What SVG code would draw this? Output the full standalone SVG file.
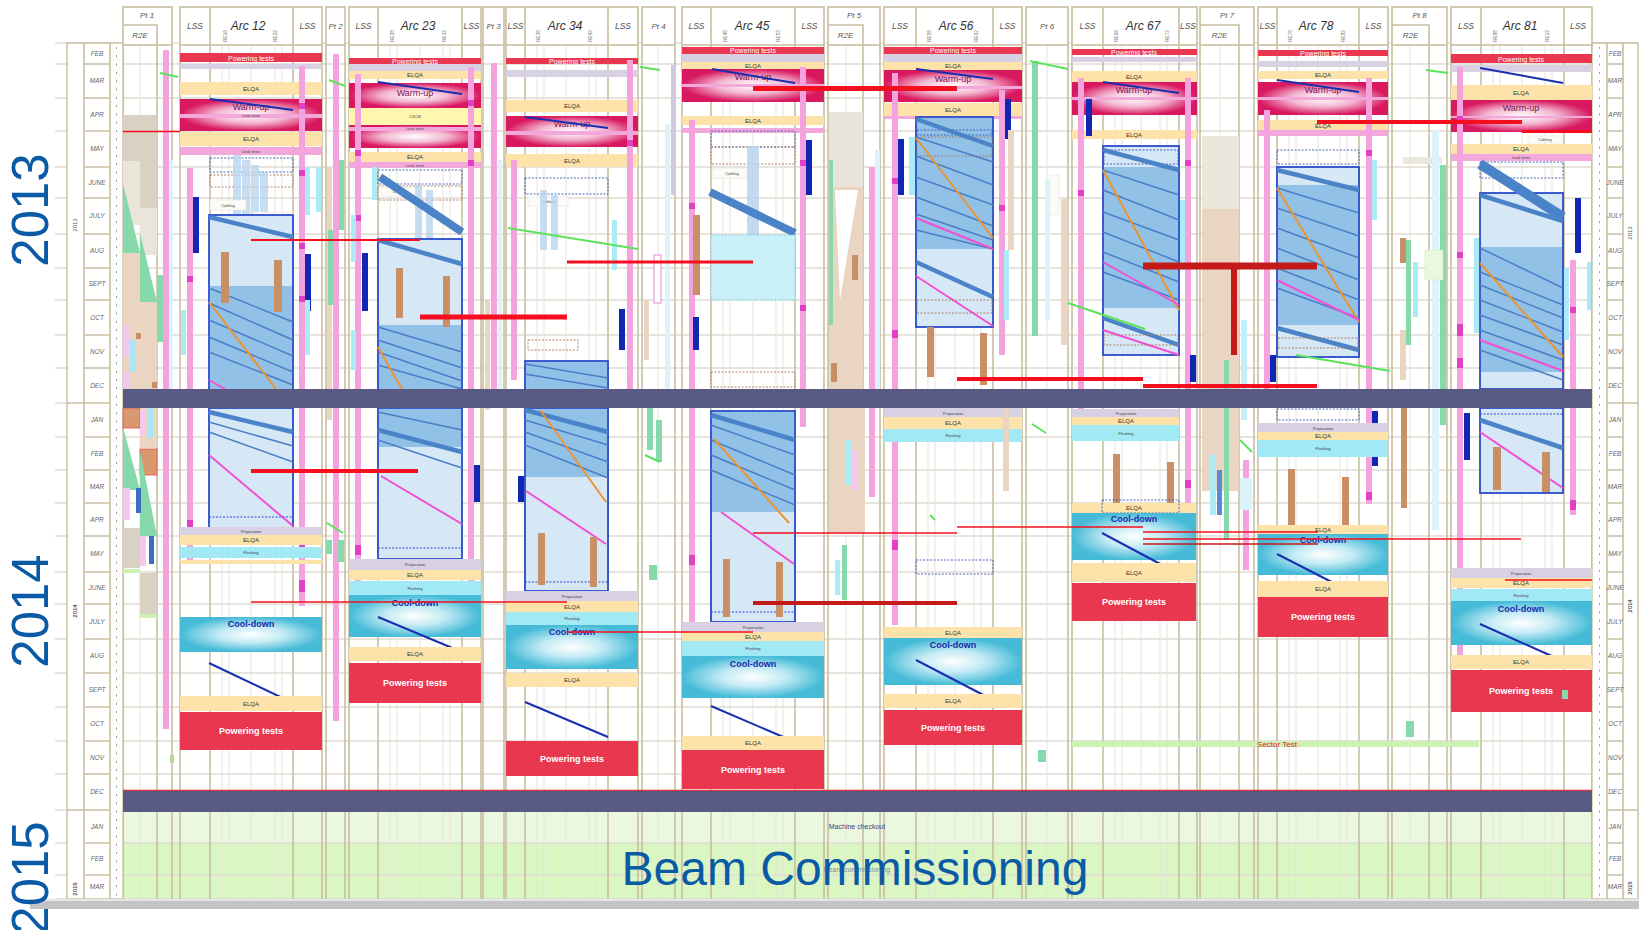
<svg xmlns="http://www.w3.org/2000/svg" width="1639" height="930" viewBox="0 0 1639 930">
<defs>
<radialGradient id="gWarm" cx="0.5" cy="0.5" r="0.5">
<stop offset="0" stop-color="#ffffff"/><stop offset="0.5" stop-color="#f3b7d1"/><stop offset="1" stop-color="#d8185f"/>
</radialGradient>
<radialGradient id="gCool" cx="0.5" cy="0.5" r="0.5">
<stop offset="0" stop-color="#ffffff"/><stop offset="0.45" stop-color="#c4ebf5"/><stop offset="1" stop-color="#46bbd7"/>
</radialGradient>
<style>
.maj{stroke:#c8bfa2;stroke-width:1.6;fill:none}
.min{stroke:#e6e3da;stroke-width:1;fill:none}
.hl{stroke:#dfdcd2;stroke-width:1.3;fill:none}
.hb{fill:#fff;stroke:#c8bfa2;stroke-width:1.6}
.tb{fill:#fff;stroke:#c8bfa2;stroke-width:1.4}
.pw{fill:#e8374f}.el{fill:#fde3a9}.lv{fill:#d7d1e3}.fl{fill:#a0e9f5}.lk{fill:#f3a8dc}.pk{fill:#f5a3df}.mk{fill:#e23fc6}
.nv{fill:#1226b4}.br{fill:#c98f66}.cy{fill:#aaebf6}.lc{fill:#dcf3fb}.tan{fill:#e9d5c1}.bg{fill:#e9e5da}.gy{fill:#d9d2c3}.gr{fill:#86d9aa}.cs{fill:#fff6b0}
.wu{fill:url(#gWarm)}.cd{fill:url(#gCool)}
.bx{fill:#d6e7f6;stroke:#2a4bcc;stroke-width:1.8}
.dk{fill:#92c1e7}
.dg{stroke:#4a7fc6;stroke-width:1.5}
.dgt{stroke:#4a83c8;stroke-width:4.5}
.or{stroke:#ec9430;stroke-width:2}
.mg{stroke:#f24fd4;stroke-width:2}
.sv{stroke:#1a2fb0;stroke-width:2}
.db{fill:#595a84}
.dsh{fill:none;stroke:#3a58b8;stroke-width:0.9;stroke-dasharray:2 1.5}
.dshb{fill:none;stroke:#a8765a;stroke-width:0.9;stroke-dasharray:2 1.5}
.wb{fill:#fbfbf8;stroke:#e6e3da;stroke-width:0.6}
.rl{stroke:#f40f1f;fill:none}
.rd{stroke:#c41a1a;fill:none}
.gl{stroke:#5ce35c;stroke-width:2}
text{font-family:"Liberation Sans",Arial,sans-serif}
.tp{font-style:italic;font-size:8px;fill:#555;text-anchor:middle}
.ta{font-style:italic;font-size:12px;fill:#333;text-anchor:middle}
.tl{font-style:italic;font-size:8.5px;fill:#555;text-anchor:middle}
.tr{font-size:4.5px;fill:#777;text-anchor:middle}
.mo{font-style:italic;font-size:6.5px;fill:#666;text-anchor:middle}
.yr{font-size:51px;fill:#0b5aa6;text-anchor:middle}
.ys{font-size:6px;fill:#555;text-anchor:middle}
.tw{font-size:7px;fill:#fff;text-anchor:middle}
.tbw{font-size:9px;font-weight:bold;fill:#fff;text-anchor:middle}
.te{font-size:6px;fill:#333;text-anchor:middle}
.tt{font-size:4px;fill:#444;text-anchor:middle}
.tc{font-size:9px;font-weight:bold;fill:#1a2ca8;text-anchor:middle}
.tu{font-size:9px;fill:#7b1553;text-anchor:middle}
</style>
</defs>
<rect width="1639" height="930" fill="#ffffff"/>

<g id="commissioning-area">
<rect x="123" y="812" width="1469" height="31" fill="#e9f8df"/>
<rect x="123" y="843" width="1469" height="56" fill="#d9f6c3"/>
</g>

<g id="grid">
<path class="hl" d="M55 43H1638M55 64H1638M55 98H1638M55 131H1638M55 167H1638M55 198H1638M55 234H1638M55 268H1638M55 300H1638M55 335H1638M55 368H1638M55 403H1638M55 437H1638M55 470H1638M55 503H1638M55 536H1638M55 572H1638M55 604H1638M55 639H1638M55 673H1638M55 707H1638M55 741H1638M55 774H1638M55 810H1638M55 843H1638M55 875H1638M55 899H1638"/>
<path class="min" d="M140 45V899M222 45V899M229 45V899M251 45V899M275 45V899M282 45V899M390 45V899M397 45V899M420 45V899M443 45V899M450 45V899M537 45V899M544 45V899M566 45V899M589 45V899M596 45V899M658 45V899M723 45V899M730 45V899M753 45V899M776 45V899M783 45V899M846 45V899M928 45V899M935 45V899M955 45V899M974 45V899M981 45V899M1047 45V899M1115 45V899M1122 45V899M1141 45V899M1160 45V899M1167 45V899M1220 45V899M1289 45V899M1296 45V899M1318 45V899M1340 45V899M1347 45V899M1410 45V899M1493 45V899M1500 45V899M1522 45V899M1545 45V899M1552 45V899"/>
<path class="maj" d="M123 45V899M157 45V899M172 45V899M180 45V899M210 45V899M293 45V899M322 45V899M326 45V899M345 45V899M349 45V899M378 45V899M462 45V899M481 45V899M483 45V899M504 45V899M506 45V899M525 45V899M608 45V899M638 45V899M642 45V899M675 45V899M682 45V899M711 45V899M795 45V899M824 45V899M828 45V899M863 45V899M880 45V899M884 45V899M916 45V899M993 45V899M1022 45V899M1026 45V899M1068 45V899M1072 45V899M1103 45V899M1179 45V899M1197 45V899M1200 45V899M1239 45V899M1254 45V899M1258 45V899M1277 45V899M1359 45V899M1388 45V899M1392 45V899M1429 45V899M1447 45V899M1451 45V899M1481 45V899M1564 45V899M1592 45V899"/>
</g>

<g id="left-table">
<rect class="tb" x="67" y="43" width="56" height="856"/>
<path class="maj" d="M84 43V899M110 43V899M67 403H84M67 810H84M84 64H110M84 98H110M84 131H110M84 167H110M84 198H110M84 234H110M84 268H110M84 300H110M84 335H110M84 368H110M84 403H110M84 437H110M84 470H110M84 503H110M84 536H110M84 572H110M84 604H110M84 639H110M84 673H110M84 707H110M84 741H110M84 774H110M84 810H110M84 843H110M84 875H110"/>
<line x1="116.5" y1="47" x2="116.5" y2="897" stroke="#9a9a9a" stroke-width="1" stroke-dasharray="2 6.3"/>
<text class="ys" transform="translate(77,225) rotate(-90)">2013</text>
<text class="ys" font-weight="bold" transform="translate(77,611) rotate(-90)">2014</text>
<text class="ys" font-weight="bold" transform="translate(77,889) rotate(-90)">2015</text>
<g class="mo">
<text x="97" y="56">FEB</text><text x="97" y="83">MAR</text><text x="97" y="117">APR</text><text x="97" y="151">MAY</text><text x="97" y="185">JUNE</text><text x="97" y="218">JULY</text><text x="97" y="253">AUG</text><text x="97" y="286">SEPT</text><text x="97" y="320">OCT</text><text x="97" y="354">NOV</text><text x="97" y="388">DEC</text>
<text x="97" y="422">JAN</text><text x="97" y="456">FEB</text><text x="97" y="489">MAR</text><text x="97" y="522">APR</text><text x="97" y="556">MAY</text><text x="97" y="590">JUNE</text><text x="97" y="624">JULY</text><text x="97" y="658">AUG</text><text x="97" y="692">SEPT</text><text x="97" y="726">OCT</text><text x="97" y="760">NOV</text><text x="97" y="794">DEC</text>
<text x="97" y="829">JAN</text><text x="97" y="861">FEB</text><text x="97" y="889">MAR</text>
</g>
</g>

<g id="right-table">
<rect class="tb" x="1592" y="43" width="46" height="856"/>
<path class="maj" d="M1607 43V899M1623 43V899M1623 403H1638M1623 810H1638M1607 64H1623M1607 98H1623M1607 131H1623M1607 167H1623M1607 198H1623M1607 234H1623M1607 268H1623M1607 300H1623M1607 335H1623M1607 368H1623M1607 403H1623M1607 437H1623M1607 470H1623M1607 503H1623M1607 536H1623M1607 572H1623M1607 604H1623M1607 639H1623M1607 673H1623M1607 707H1623M1607 741H1623M1607 774H1623M1607 810H1623M1607 843H1623M1607 875H1623"/>
<line x1="1599.5" y1="47" x2="1599.5" y2="897" stroke="#9a9a9a" stroke-width="1" stroke-dasharray="2 6.3"/>
<text class="ys" transform="translate(1632,233) rotate(-90)">2013</text>
<text class="ys" font-weight="bold" transform="translate(1632,606) rotate(-90)">2014</text>
<text class="ys" font-weight="bold" transform="translate(1632,888) rotate(-90)">2015</text>
<g class="mo">
<text x="1615" y="56">FEB</text><text x="1615" y="83">MAR</text><text x="1615" y="117">APR</text><text x="1615" y="151">MAY</text><text x="1615" y="185">JUNE</text><text x="1615" y="218">JULY</text><text x="1615" y="253">AUG</text><text x="1615" y="286">SEPT</text><text x="1615" y="320">OCT</text><text x="1615" y="354">NOV</text><text x="1615" y="388">DEC</text>
<text x="1615" y="422">JAN</text><text x="1615" y="456">FEB</text><text x="1615" y="489">MAR</text><text x="1615" y="522">APR</text><text x="1615" y="556">MAY</text><text x="1615" y="590">JUNE</text><text x="1615" y="624">JULY</text><text x="1615" y="658">AUG</text><text x="1615" y="692">SEPT</text><text x="1615" y="726">OCT</text><text x="1615" y="760">NOV</text><text x="1615" y="794">DEC</text>
<text x="1615" y="829">JAN</text><text x="1615" y="861">FEB</text><text x="1615" y="889">MAR</text>
</g>
</g>

<g id="headers">
<rect class="hb" x="123" y="7" width="49" height="38"/><path class="maj" d="M123 25H157V45"/><text class="tp" x="147" y="18">Pt 1</text><text class="tp" x="140" y="38">R2E</text>
<rect class="hb" x="180" y="7" width="142" height="38"/><path class="maj" d="M210 7V45M293 7V45"/><text class="tl" x="195" y="29">LSS</text><text class="ta" x="248" y="30">Arc 12</text><text class="tl" x="307.5" y="29">LSS</text>
<text class="tr" transform="translate(227,36) rotate(-90)">RE18</text><text class="tr" transform="translate(277,36) rotate(-90)">RE22</text>
<rect class="hb" x="326" y="7" width="19" height="38"/><text class="tp" x="335.5" y="29">Pt 2</text>
<rect class="hb" x="349" y="7" width="132" height="38"/><path class="maj" d="M378 7V45M462 7V45"/><text class="tl" x="363.5" y="29">LSS</text><text class="ta" x="418" y="30">Arc 23</text><text class="tl" x="471.5" y="29">LSS</text>
<text class="tr" transform="translate(394,36) rotate(-90)">RE28</text><text class="tr" transform="translate(446,36) rotate(-90)">RE32</text>
<rect class="hb" x="483" y="7" width="21" height="38"/><text class="tp" x="493.5" y="29">Pt 3</text>
<rect class="hb" x="506" y="7" width="132" height="38"/><path class="maj" d="M525 7V45M608 7V45"/><text class="tl" x="515.5" y="29">LSS</text><text class="ta" x="565" y="30">Arc 34</text><text class="tl" x="623" y="29">LSS</text>
<text class="tr" transform="translate(540,36) rotate(-90)">RE38</text><text class="tr" transform="translate(592,36) rotate(-90)">RE42</text>
<rect class="hb" x="642" y="7" width="33" height="38"/><text class="tp" x="658.5" y="29">Pt 4</text>
<rect class="hb" x="682" y="7" width="142" height="38"/><path class="maj" d="M711 7V45M795 7V45"/><text class="tl" x="696.5" y="29">LSS</text><text class="ta" x="752" y="30">Arc 45</text><text class="tl" x="809.5" y="29">LSS</text>
<text class="tr" transform="translate(727,36) rotate(-90)">RE48</text><text class="tr" transform="translate(780,36) rotate(-90)">RE52</text>
<rect class="hb" x="828" y="7" width="52" height="38"/><path class="maj" d="M828 25H863V45"/><text class="tp" x="854" y="18">Pt 5</text><text class="tp" x="845.5" y="38">R2E</text>
<rect class="hb" x="884" y="7" width="138" height="38"/><path class="maj" d="M916 7V45M993 7V45"/><text class="tl" x="900" y="29">LSS</text><text class="ta" x="956" y="30">Arc 56</text><text class="tl" x="1007.5" y="29">LSS</text>
<text class="tr" transform="translate(931,36) rotate(-90)">RE58</text><text class="tr" transform="translate(978,36) rotate(-90)">RE62</text>
<rect class="hb" x="1026" y="7" width="42" height="38"/><text class="tp" x="1047" y="29">Pt 6</text>
<rect class="hb" x="1072" y="7" width="125" height="38"/><path class="maj" d="M1103 7V45M1179 7V45"/><text class="tl" x="1087.5" y="29">LSS</text><text class="ta" x="1143" y="30">Arc 67</text><text class="tl" x="1188" y="29">LSS</text>
<text class="tr" transform="translate(1118,36) rotate(-90)">RE68</text><text class="tr" transform="translate(1169,36) rotate(-90)">RE72</text>
<rect class="hb" x="1200" y="7" width="54" height="38"/><path class="maj" d="M1200 25H1239V45"/><text class="tp" x="1227" y="18">Pt 7</text><text class="tp" x="1219.5" y="38">R2E</text>
<rect class="hb" x="1258" y="7" width="130" height="38"/><path class="maj" d="M1277 7V45M1359 7V45"/><text class="tl" x="1267.5" y="29">LSS</text><text class="ta" x="1316" y="30">Arc 78</text><text class="tl" x="1373.5" y="29">LSS</text>
<text class="tr" transform="translate(1292,36) rotate(-90)">RE78</text><text class="tr" transform="translate(1345,36) rotate(-90)">RE82</text>
<rect class="hb" x="1392" y="7" width="55" height="38"/><path class="maj" d="M1392 25H1429V45"/><text class="tp" x="1419.5" y="18">Pt 8</text><text class="tp" x="1410.5" y="38">R2E</text>
<rect class="hb" x="1451" y="7" width="141" height="38"/><path class="maj" d="M1481 7V45M1564 7V45"/><text class="tl" x="1466" y="29">LSS</text><text class="ta" x="1520" y="30">Arc 81</text><text class="tl" x="1578" y="29">LSS</text>
<text class="tr" transform="translate(1497,36) rotate(-90)">RE88</text><text class="tr" transform="translate(1549,36) rotate(-90)">RE12</text>
</g>

<g id="pt1">
<rect class="gy" x="123" y="115" width="17" height="46"/><rect class="gy" x="140" y="115" width="17" height="93"/>
<rect class="bg" x="123" y="161" width="17" height="64"/><rect class="bg" x="140" y="208" width="17" height="47"/>
<rect class="tan" x="123" y="253" width="17" height="136"/><rect class="tan" x="140" y="302" width="17" height="87"/>
<polygon class="gr" points="123,183 123,253 140,253"/><polygon class="gr" points="140,233 140,302 157,302"/>
<rect x="123" y="325" width="6" height="32" fill="#f5c8ef"/><rect x="130" y="340" width="6" height="32" fill="#a9e6f7"/><rect x="123" y="372" width="6" height="16" fill="#f5c8ef"/>
<rect class="br" x="136" y="333" width="5" height="6"/><rect class="br" x="152" y="382" width="5" height="6"/>
<rect class="gr" x="157" y="275" width="6" height="67"/>
<rect class="lc" x="169" y="160" width="4" height="240"/>
<rect class="pk" x="163" y="50" width="6" height="679"/>
<rect x="123" y="408" width="17" height="20" fill="#d9986e" stroke="#e05050" stroke-width="0.8"/>
<rect class="tan" x="140" y="408" width="17" height="40"/><rect x="140" y="410" width="5" height="25" fill="#f5c8ef"/><rect x="147" y="408" width="6" height="30" fill="#a9e6f7"/>
<rect x="140" y="449" width="17" height="26" fill="#d9986e" stroke="#e05050" stroke-width="0.8"/>
<polygon class="gr" points="123,427 123,490 140,490"/><polygon class="gr" points="140,451 140,536 157,536"/>
<rect x="123" y="488" width="7" height="32" fill="#f5c8ef"/><rect x="136" y="488" width="5" height="25" fill="#3b6ec0"/>
<rect x="140" y="536" width="6" height="30" fill="#f5c8ef"/><rect x="149" y="536" width="5" height="28" fill="#3b6ec0"/>
<rect class="gy" x="123" y="528" width="17" height="40"/><rect x="123" y="569" width="17" height="4" fill="#cdf0b3"/>
<rect class="gy" x="140" y="573" width="17" height="41"/><rect x="140" y="614" width="17" height="4" fill="#cdf0b3"/>
<rect x="170" y="755" width="4" height="8" fill="#b9d99a"/>
</g>

<g id="pt2">
<rect class="tan" x="327" y="167" width="5" height="253"/>
<rect class="gr" x="338" y="160" width="6" height="70"/><rect class="gr" x="328" y="230" width="5" height="75"/>
<rect class="pk" x="333" y="54" width="6" height="667"/>
<rect class="gr" x="326" y="540" width="6" height="14"/><rect class="gr" x="338" y="540" width="6" height="22"/>
</g>

<g id="pt3">
<rect class="tan" x="485" y="300" width="5" height="110"/>
<rect class="pk" x="491" y="63" width="6" height="330"/>
<rect class="lc" x="498" y="160" width="4" height="230"/>
</g>

<g id="pt4">
<rect class="lc" x="665" y="124" width="5" height="276"/>
<rect x="671" y="65" width="5" height="130" fill="#cfcadb"/>
<rect class="tan" x="644" y="300" width="5" height="60"/>
<rect x="654" y="255" width="7" height="48" fill="#fff" stroke="#e06fd0" stroke-width="0.8"/>
<rect class="gr" x="647" y="402" width="6" height="48"/><rect class="gr" x="656" y="420" width="6" height="42"/>
<rect class="gr" x="649" y="565" width="8" height="15"/>
</g>

<g id="pt5">
<rect x="829" y="112" width="34" height="75" fill="#e8e4d9"/>
<rect class="tan" x="829" y="187" width="34" height="202"/>
<polygon points="835,190 858,190 840,300" fill="#ffffff"/>
<rect class="gr" x="829" y="160" width="4" height="165"/>
<rect class="br" x="852" y="255" width="6" height="25"/><rect class="br" x="831" y="363" width="6" height="19"/>
<rect class="lc" x="875" y="150" width="5" height="240"/>
<rect class="pk" x="869" y="167" width="6" height="330"/>
<rect class="tan" x="829" y="408" width="36" height="125"/>
<rect class="cy" x="846" y="440" width="5" height="45"/><rect x="852" y="450" width="6" height="40" fill="#f5c8ef"/>
<rect class="gr" x="842" y="545" width="5" height="55"/><rect class="cy" x="835" y="560" width="5" height="35"/>
</g>

<g id="pt6">
<rect class="gr" x="1032" y="61" width="6" height="275"/>
<rect class="lc" x="1045" y="180" width="5" height="140"/>
<rect class="tan" x="1061" y="199" width="7" height="146"/>
<rect class="wb" x="1050" y="175" width="9" height="40"/>
<rect class="gr" x="1038" y="750" width="8" height="12"/>
</g>

<g id="pt7">
<rect x="1202" y="136" width="37" height="73" fill="#ebe7dc"/>
<rect class="tan" x="1202" y="209" width="37" height="282"/>
<rect class="gr" x="1224" y="360" width="5" height="180"/>
<rect x="1241" y="320" width="6" height="100" fill="#c3effa"/>
<rect class="pk" x="1243" y="460" width="6" height="110"/>
<rect class="cy" x="1210" y="455" width="6" height="60"/><rect x="1217" y="470" width="5" height="45" fill="#5a8ad0"/>
<rect class="lc" x="1240" y="478" width="12" height="32"/>
</g>

<g id="pt8">
<rect x="1403" y="157" width="39" height="7" fill="#ebe7dc"/>
<rect class="br" x="1400" y="238" width="6" height="25"/>
<rect class="gr" x="1406" y="240" width="5" height="105"/>
<rect class="cy" x="1413" y="262" width="5" height="55"/>
<rect class="tan" x="1400" y="330" width="6" height="50"/>
<rect class="lc" x="1432" y="130" width="7" height="400"/>
<rect class="gr" x="1440" y="165" width="6" height="260"/>
<rect x="1425" y="250" width="18" height="30" fill="#eaf8e0" stroke="#cdeec0" stroke-width="0.6"/>
<rect class="br" x="1401" y="408" width="6" height="100"/>
<rect class="gr" x="1406" y="721" width="8" height="16"/>
</g>

<g id="arc12">
<rect class="pw" x="180" y="53" width="142" height="9"/><text class="tw" x="251" y="60.5">Powering tests</text>
<rect class="lv" x="180" y="64" width="142" height="5"/>
<rect class="el" x="180" y="82" width="142" height="13"/><text class="te" x="251" y="91">ELQA</text>
<rect class="wu" x="180" y="99" width="142" height="32"/><rect class="lk" x="180" y="114" width="142" height="4"/>
<text class="tu" x="251" y="110">Warm-up</text><text class="tt" x="251" y="117.3">Leak tests</text>
<rect class="el" x="180" y="132" width="142" height="14"/><text class="te" x="251" y="141">ELQA</text>
<rect class="lk" x="180" y="147" width="142" height="8"/><text class="tt" x="251" y="152.5">Leak tests</text>
<line class="sv" x1="210" y1="99" x2="293" y2="110"/>
<rect class="dsh" x="210" y="158" width="83" height="14"/><rect class="dshb" x="210" y="175" width="83" height="12"/>
<rect x="233" y="155" width="8" height="90" fill="#b9d4ee" opacity="0.8"/><rect x="242" y="160" width="8" height="85" fill="#b9d4ee" opacity="0.8"/><rect x="251" y="165" width="8" height="80" fill="#b9d4ee" opacity="0.8"/><rect x="260" y="172" width="8" height="78" fill="#b9d4ee" opacity="0.8"/>
<rect class="wb" x="210" y="200" width="36" height="10"/><text class="tt" x="228" y="206.5">Cabling</text>
<rect class="wb" x="253" y="212" width="40" height="10"/><text class="tt" x="273" y="218.5">Cabling</text>
<rect class="bx" x="209" y="215" width="84" height="174"/><rect class="dk" x="210" y="286" width="82" height="103"/>
<line class="dgt" x1="209" y1="217" x2="293" y2="237"/>
<path class="dg" d="M209 288L293 322M209 303L293 340M209 320L293 356M209 337L293 372M209 352L293 385"/>
<line class="or" x1="209" y1="302" x2="293" y2="411"/>
<line class="mg" x1="209" y1="380" x2="293" y2="428"/>
<rect class="br" x="221" y="252" width="8" height="51"/><rect class="br" x="274" y="260" width="8" height="52"/>
<rect class="bx" x="209" y="408" width="84" height="120"/>
<line class="dgt" x1="209" y1="412" x2="293" y2="432"/>
<path class="dg" d="M209 422L293 446M209 432L293 462"/>
<line class="mg" x1="209" y1="455" x2="293" y2="526"/>
<line x1="209" y1="517" x2="293" y2="517" stroke="#2a4bcc" stroke-dasharray="2 1.5"/>
<rect class="pk" x="187" y="168" width="6" height="392"/><rect class="mk" x="187" y="276" width="6" height="6"/><rect class="mk" x="187" y="520" width="6" height="8"/>
<rect class="pk" x="299" y="66" width="6" height="540"/><rect class="mk" x="299" y="103" width="6" height="6"/><rect class="mk" x="299" y="170" width="6" height="6"/><rect class="mk" x="299" y="243" width="6" height="6"/><rect class="mk" x="299" y="296" width="6" height="6"/><rect class="mk" x="299" y="540" width="6" height="9"/><rect class="mk" x="299" y="580" width="6" height="12"/>
<rect class="nv" x="193" y="197" width="6" height="56"/><rect class="nv" x="305" y="254" width="6" height="57"/>
<rect class="cy" x="181" y="310" width="5" height="45"/><rect class="cy" x="305" y="167" width="5" height="48"/><rect class="cy" x="316" y="167" width="5" height="45"/><rect class="cy" x="305" y="300" width="5" height="55"/>
<rect class="lv" x="180" y="527" width="142" height="8"/><text class="tt" x="251" y="532.5">Preparation</text>
<rect class="el" x="180" y="535" width="142" height="10"/><text class="te" x="251" y="542">ELQA</text>
<rect class="fl" x="180" y="547" width="142" height="11"/><text class="tt" x="251" y="554">Flushing</text>
<rect class="el" x="180" y="560" width="142" height="4"/>
<rect class="cd" x="180" y="617" width="142" height="35"/><text class="tc" x="251" y="627">Cool-down</text>
<line class="sv" x1="209" y1="663" x2="293" y2="703"/>
<rect class="el" x="180" y="696" width="142" height="15"/><text class="te" x="251" y="706">ELQA</text>
<rect class="pw" x="180" y="712" width="142" height="38"/><text class="tbw" x="251" y="734">Powering tests</text>
</g>

<g id="arc23">
<rect class="pw" x="349" y="58" width="132" height="6"/><text class="tw" x="415" y="63.5" font-size="6">Powering tests</text>
<rect class="lv" x="349" y="64" width="132" height="7"/>
<rect class="el" x="349" y="71" width="132" height="8"/><text class="te" x="415" y="77">ELQA</text>
<rect class="wu" x="349" y="83" width="132" height="25"/><text class="tu" x="415" y="96">Warm-up</text>
<rect class="cs" x="349" y="108" width="132" height="17"/><text class="tt" x="415" y="118">CSCM</text>
<rect class="wu" x="349" y="125" width="132" height="23"/><rect class="lk" x="349" y="127" width="132" height="4"/><text class="tt" x="415" y="130.3">Leak tests</text>
<rect class="el" x="349" y="152" width="132" height="10"/><text class="te" x="415" y="159">ELQA</text>
<rect class="lk" x="349" y="162" width="132" height="6"/><text class="tt" x="415" y="166.5">Leak tests</text>
<line class="sv" x1="378" y1="82" x2="462" y2="94"/>
<rect class="dsh" x="378" y="170" width="84" height="14"/><rect class="dshb" x="378" y="186" width="84" height="14"/>
<rect class="wb" x="381" y="187" width="37" height="9"/><text class="tt" x="399.5" y="193">Cabling</text>
<rect x="415" y="185" width="7" height="80" fill="#b9d4ee" opacity="0.8"/><rect x="426" y="190" width="7" height="85" fill="#b9d4ee" opacity="0.8"/>
<line x1="380" y1="177" x2="462" y2="232" stroke="#4a83c8" stroke-width="8"/>
<rect class="bx" x="378" y="239" width="84" height="150"/><rect class="dk" x="379" y="325" width="82" height="64"/>
<line class="dgt" x1="378" y1="240" x2="462" y2="264"/>
<path class="dg" d="M378 327L462 352M378 340L462 368M378 352L462 381M378 365L462 389"/>
<line class="or" x1="378" y1="347" x2="462" y2="495"/>
<rect class="br" x="396" y="268" width="7" height="50"/><rect class="br" x="443" y="276" width="7" height="51"/>
<rect class="bx" x="378" y="408" width="84" height="151"/><rect class="dk" x="379" y="409" width="82" height="38"/>
<line class="dgt" x1="378" y1="430" x2="462" y2="452"/>
<path class="dg" d="M378 412L462 430M378 440L462 468"/>
<line class="mg" x1="381" y1="476" x2="462" y2="524"/>
<line x1="378" y1="548" x2="462" y2="548" stroke="#2a4bcc" stroke-dasharray="2 1.5"/>
<rect class="pk" x="355" y="74" width="6" height="512"/><rect class="mk" x="355" y="150" width="6" height="6"/><rect class="mk" x="355" y="215" width="6" height="6"/><rect class="mk" x="355" y="545" width="6" height="10"/>
<rect class="pk" x="468" y="67" width="6" height="520"/><rect class="mk" x="468" y="100" width="6" height="6"/><rect class="mk" x="468" y="160" width="6" height="6"/>
<rect class="nv" x="362" y="253" width="6" height="58"/><rect class="nv" x="474" y="465" width="6" height="37"/>
<rect class="cy" x="351" y="215" width="5" height="47"/><rect class="cy" x="372" y="167" width="5" height="33"/><rect class="cy" x="351" y="330" width="5" height="40"/>
<rect class="lv" x="349" y="559" width="132" height="11"/><text class="tt" x="415" y="566">Preparation</text>
<rect class="el" x="349" y="570" width="132" height="10"/><text class="te" x="415" y="577">ELQA</text>
<rect class="fl" x="349" y="581" width="132" height="14"/><text class="tt" x="415" y="589.5">Flushing</text>
<rect class="cd" x="349" y="595" width="132" height="42"/><text class="tc" x="415" y="606">Cool-down</text>
<line class="sv" x1="378" y1="617" x2="462" y2="652"/>
<rect class="el" x="349" y="647" width="132" height="14"/><text class="te" x="415" y="656">ELQA</text>
<rect class="pw" x="349" y="663" width="132" height="40"/><text class="tbw" x="415" y="686">Powering tests</text>
</g>

<g id="arc34">
<rect class="pw" x="506" y="58" width="132" height="6"/><text class="tw" x="572" y="63.5" font-size="6">Powering tests</text>
<rect class="lv" x="506" y="70" width="132" height="7"/>
<rect class="el" x="506" y="100" width="132" height="12"/><text class="te" x="572" y="108">ELQA</text>
<rect class="wu" x="506" y="116" width="132" height="31"/><rect class="lk" x="506" y="131" width="132" height="4"/><text class="tu" x="572" y="127">Warm-up</text>
<rect class="el" x="506" y="154" width="132" height="13"/><text class="te" x="572" y="163">ELQA</text>
<line class="sv" x1="525" y1="117" x2="608" y2="128"/>
<rect class="dsh" x="525" y="178" width="83" height="16"/>
<rect class="wb" x="528" y="197" width="40" height="9"/><text class="tt" x="548" y="203">Cabling</text>
<rect x="540" y="190" width="7" height="60" fill="#b9d4ee" opacity="0.8"/><rect x="551" y="195" width="7" height="55" fill="#b9d4ee" opacity="0.8"/>
<rect class="dshb" x="528" y="340" width="50" height="10"/>
<rect class="bx" x="525" y="361" width="83" height="28"/><rect class="dk" x="526" y="362" width="81" height="27"/>
<path class="dg" d="M525 364L608 378M525 374L608 388"/>
<rect class="bx" x="525" y="408" width="83" height="183"/><rect class="dk" x="526" y="409" width="81" height="68"/>
<line class="dgt" x1="525" y1="410" x2="608" y2="432"/>
<path class="dg" d="M525 420L608 445M525 432L608 462M525 445L608 478"/>
<line class="or" x1="540" y1="410" x2="606" y2="502"/>
<line class="mg" x1="526" y1="491" x2="606" y2="544"/>
<line x1="525" y1="582" x2="608" y2="582" stroke="#2a4bcc" stroke-dasharray="2 1.5"/>
<rect class="br" x="538" y="533" width="7" height="52"/><rect class="br" x="590" y="537" width="7" height="50"/>
<rect class="pk" x="511" y="160" width="6" height="220"/>
<rect class="pk" x="627" y="60" width="6" height="330"/><rect class="mk" x="627" y="140" width="6" height="6"/>
<rect class="nv" x="518" y="476" width="6" height="26"/><rect class="nv" x="619" y="309" width="6" height="41"/>
<rect class="cy" x="612" y="220" width="5" height="50"/>
<rect class="lv" x="506" y="591" width="132" height="10"/><text class="tt" x="572" y="597.5">Preparation</text>
<rect class="el" x="506" y="601" width="132" height="11"/><text class="te" x="572" y="608.5">ELQA</text>
<rect class="fl" x="506" y="612" width="132" height="13"/><text class="tt" x="572" y="620">Flushing</text>
<rect class="cd" x="506" y="625" width="132" height="44"/><text class="tc" x="572" y="635">Cool-down</text>
<rect class="el" x="506" y="673" width="132" height="14"/><text class="te" x="572" y="682">ELQA</text>
<line class="sv" x1="525" y1="702" x2="608" y2="737"/>
<rect class="pw" x="506" y="741" width="132" height="35"/><text class="tbw" x="572" y="762">Powering tests</text>
</g>

<g id="arc45">
<rect class="pw" x="682" y="47" width="142" height="7"/><text class="tw" x="753" y="53">Powering tests</text>
<rect class="lv" x="682" y="54" width="142" height="8"/>
<rect class="el" x="682" y="62" width="142" height="7"/><text class="te" x="753" y="67.5">ELQA</text>
<rect class="wu" x="682" y="69" width="142" height="33"/><rect class="lk" x="682" y="84" width="142" height="3"/><text class="tu" x="753" y="80">Warm-up</text>
<rect class="el" x="682" y="116" width="142" height="9"/><text class="te" x="753" y="122.5">ELQA</text>
<rect class="lk" x="682" y="128" width="142" height="5"/>
<line class="sv" x1="712" y1="69" x2="795" y2="83"/>
<rect class="dsh" x="711" y="131" width="84" height="16"/><rect class="dshb" x="711" y="147" width="84" height="17"/>
<rect class="wb" x="712" y="168" width="40" height="10"/><text class="tt" x="732" y="174.5">Cabling</text>
<rect x="747" y="146" width="12" height="114" fill="#b9d4ee" opacity="0.85"/>
<line x1="710" y1="192" x2="795" y2="233" stroke="#4a83c8" stroke-width="8"/>
<rect x="711" y="235" width="84" height="65" fill="#c9eff8" stroke="#6fd0e6" stroke-width="0.8" stroke-dasharray="2 1.5"/>
<rect class="dshb" x="711" y="372" width="84" height="15"/>
<rect class="bx" x="711" y="411" width="84" height="211"/><rect class="dk" x="712" y="412" width="82" height="100"/>
<line class="dgt" x1="711" y1="415" x2="795" y2="440"/>
<path class="dg" d="M711 425L795 455M711 440L795 475M711 455L795 490M711 470L795 505"/>
<line class="or" x1="714" y1="439" x2="789" y2="523"/>
<line class="mg" x1="721" y1="512" x2="794" y2="564"/>
<line x1="711" y1="612" x2="795" y2="612" stroke="#2a4bcc" stroke-dasharray="2 1.5"/>
<rect class="br" x="723" y="559" width="7" height="58"/><rect class="br" x="776" y="562" width="7" height="55"/>
<rect class="pk" x="689" y="120" width="6" height="549"/><rect class="mk" x="689" y="203" width="6" height="6"/><rect class="mk" x="689" y="555" width="6" height="10"/>
<rect class="pk" x="800" y="67" width="6" height="360"/><rect class="mk" x="800" y="160" width="6" height="6"/><rect class="mk" x="800" y="305" width="6" height="6"/>
<rect class="nv" x="806" y="140" width="6" height="55"/><rect class="nv" x="693" y="317" width="6" height="33"/>
<rect class="br" x="693" y="215" width="7" height="80"/>
<rect class="lv" x="682" y="622" width="142" height="10"/><text class="tt" x="753" y="628.5">Preparation</text>
<rect class="el" x="682" y="632" width="142" height="9"/><text class="te" x="753" y="638.5">ELQA</text>
<rect class="fl" x="682" y="641" width="142" height="15"/><text class="tt" x="753" y="650">Flushing</text>
<rect class="cd" x="682" y="656" width="142" height="42"/><text class="tc" x="753" y="667">Cool-down</text>
<line class="sv" x1="711" y1="706" x2="795" y2="742"/>
<rect class="el" x="682" y="736" width="142" height="14"/><text class="te" x="753" y="745">ELQA</text>
<rect class="pw" x="682" y="750" width="142" height="39"/><text class="tbw" x="753" y="773">Powering tests</text>
</g>

<g id="arc56">
<rect class="pw" x="884" y="47" width="138" height="7"/><text class="tw" x="953" y="53">Powering tests</text>
<rect class="lv" x="884" y="54" width="138" height="8"/>
<rect class="el" x="884" y="62" width="138" height="8"/><text class="te" x="953" y="68">ELQA</text>
<rect class="wu" x="884" y="70" width="138" height="32"/><rect class="lk" x="884" y="86" width="138" height="3"/><text class="tu" x="953" y="82">Warm-up</text>
<rect class="el" x="884" y="103" width="138" height="13"/><text class="te" x="953" y="111.5">ELQA</text>
<rect class="lk" x="884" y="116" width="138" height="3"/>
<line class="sv" x1="916" y1="69" x2="993" y2="79"/>
<rect class="bx" x="916" y="117" width="77" height="210"/><rect class="dk" x="917" y="118" width="75" height="131"/>
<rect class="dsh" x="917" y="130" width="75" height="5"/><rect class="dshb" x="917" y="137" width="75" height="19"/>
<line class="dgt" x1="916" y1="119" x2="993" y2="146"/>
<path class="dg" d="M916 137L993 162M916 156L993 185M916 177L993 205M916 197L993 226M916 214L993 240M916 230L993 249"/>
<line class="or" x1="916" y1="138" x2="993" y2="238"/>
<line class="mg" x1="916" y1="218" x2="993" y2="249"/>
<line class="dgt" x1="916" y1="262" x2="993" y2="297"/>
<line class="mg" x1="916" y1="276" x2="993" y2="326"/>
<rect class="dshb" x="917" y="300" width="75" height="13"/>
<rect class="br" x="927" y="327" width="7" height="50"/><rect class="br" x="980" y="333" width="7" height="52"/>
<rect class="pk" x="892" y="73" width="6" height="552"/><rect class="mk" x="892" y="178" width="6" height="6"/><rect class="mk" x="892" y="330" width="6" height="8"/><rect class="mk" x="892" y="540" width="6" height="10"/>
<rect class="pk" x="999" y="90" width="6" height="265"/><rect class="mk" x="999" y="205" width="6" height="6"/>
<rect class="nv" x="898" y="139" width="6" height="56"/><rect class="nv" x="1005" y="99" width="6" height="40"/>
<rect class="cy" x="909" y="137" width="6" height="58"/><rect class="cy" x="1004" y="250" width="5" height="70"/>
<rect class="tan" x="1008" y="130" width="6" height="120"/>
<rect class="lv" x="884" y="408" width="138" height="9"/><text class="tt" x="953" y="414.5">Preparation</text>
<rect class="el" x="884" y="417" width="138" height="12"/><text class="te" x="953" y="425">ELQA</text>
<rect class="fl" x="884" y="429" width="138" height="13"/><text class="tt" x="953" y="437">Flushing</text>
<rect class="tan" x="1003" y="408" width="6" height="83"/>
<rect class="dsh" x="916" y="560" width="77" height="14"/>
<rect class="el" x="884" y="627" width="138" height="11"/><text class="te" x="953" y="634.5">ELQA</text>
<rect class="cd" x="884" y="638" width="138" height="47"/><text class="tc" x="953" y="648">Cool-down</text>
<line class="sv" x1="916" y1="660" x2="993" y2="700"/>
<rect class="el" x="884" y="694" width="138" height="14"/><text class="te" x="953" y="703">ELQA</text>
<rect class="pw" x="884" y="710" width="138" height="35"/><text class="tbw" x="953" y="731">Powering tests</text>
</g>

<g id="arc67">
<rect class="pw" x="1072" y="49" width="125" height="6"/><text class="tw" x="1134" y="54.5" font-size="6">Powering tests</text>
<rect class="lv" x="1072" y="57" width="125" height="5"/>
<rect class="el" x="1072" y="71" width="125" height="11"/><text class="te" x="1134" y="79">ELQA</text>
<rect class="wu" x="1072" y="82" width="125" height="33"/><rect class="lk" x="1072" y="97" width="125" height="3"/><text class="tu" x="1134" y="93">Warm-up</text>
<rect class="el" x="1072" y="130" width="125" height="9"/><text class="te" x="1134" y="136.5">ELQA</text>
<line class="sv" x1="1103" y1="82" x2="1179" y2="93"/>
<rect class="bx" x="1103" y="146" width="76" height="209"/><rect class="dk" x="1104" y="167" width="74" height="141"/>
<rect class="dsh" x="1104" y="150" width="74" height="14"/>
<line class="dgt" x1="1103" y1="150" x2="1179" y2="170"/>
<path class="dg" d="M1103 170L1179 195M1103 190L1179 220M1103 212L1179 240M1103 232L1179 262M1103 252L1179 282M1103 272L1179 300"/>
<line class="or" x1="1103" y1="170" x2="1179" y2="310"/>
<line class="mg" x1="1103" y1="262" x2="1179" y2="305"/>
<line class="dgt" x1="1103" y1="318" x2="1179" y2="345"/>
<line class="mg" x1="1103" y1="330" x2="1179" y2="355"/>
<rect class="dshb" x="1104" y="335" width="74" height="10"/>
<rect class="pk" x="1078" y="78" width="6" height="363"/><rect class="mk" x="1078" y="190" width="6" height="6"/><rect class="mk" x="1078" y="430" width="6" height="8"/>
<rect class="pk" x="1185" y="78" width="6" height="425"/><rect class="mk" x="1185" y="160" width="6" height="6"/><rect class="mk" x="1185" y="480" width="6" height="8"/>
<rect class="nv" x="1086" y="99" width="6" height="37"/><rect class="nv" x="1190" y="355" width="6" height="27"/>
<rect class="cy" x="1180" y="200" width="5" height="70"/>
<rect class="lv" x="1072" y="409" width="107" height="8"/><text class="tt" x="1126" y="414.5">Preparation</text>
<rect class="el" x="1072" y="417" width="107" height="8"/><text class="te" x="1126" y="423">ELQA</text>
<rect class="fl" x="1072" y="425" width="107" height="16"/><text class="tt" x="1126" y="434.5">Flushing</text>
<rect class="br" x="1113" y="454" width="7" height="51"/><rect class="br" x="1167" y="462" width="7" height="50"/>
<rect class="el" x="1072" y="503" width="124" height="10"/><text class="te" x="1134" y="510">ELQA</text>
<rect class="dsh" x="1102" y="500" width="77" height="13"/>
<rect class="cd" x="1072" y="513" width="124" height="47"/><text class="tc" x="1134" y="522">Cool-down</text>
<line class="sv" x1="1102" y1="533" x2="1179" y2="574"/>
<rect class="el" x="1072" y="563" width="124" height="19"/><text class="te" x="1134" y="575">ELQA</text>
<rect class="pw" x="1072" y="583" width="124" height="38"/><text class="tbw" x="1134" y="605">Powering tests</text>
</g>

<g id="arc78">
<rect class="pw" x="1258" y="50" width="130" height="6"/><text class="tw" x="1323" y="55.5" font-size="6">Powering tests</text>
<rect class="lv" x="1258" y="61" width="130" height="6"/>
<rect class="el" x="1258" y="71" width="130" height="8"/><text class="te" x="1323" y="77">ELQA</text>
<rect class="wu" x="1258" y="82" width="130" height="33"/><rect class="lk" x="1258" y="97" width="130" height="3"/><text class="tu" x="1323" y="93">Warm-up</text>
<rect class="el" x="1258" y="120" width="130" height="10"/><text class="te" x="1323" y="127.5">ELQA</text>
<rect class="lk" x="1258" y="130" width="130" height="6"/>
<line class="sv" x1="1277" y1="80" x2="1359" y2="92"/>
<rect class="dsh" x="1277" y="150" width="82" height="14"/>
<rect class="bx" x="1277" y="167" width="82" height="190"/><rect class="dk" x="1278" y="185" width="80" height="140"/>
<line class="dgt" x1="1277" y1="170" x2="1359" y2="190"/>
<path class="dg" d="M1277 188L1359 213M1277 208L1359 236M1277 228L1359 258M1277 248L1359 280M1277 268L1359 300M1277 288L1359 318"/>
<line class="or" x1="1277" y1="188" x2="1359" y2="322"/>
<line class="mg" x1="1277" y1="280" x2="1359" y2="320"/>
<line class="dgt" x1="1277" y1="328" x2="1359" y2="350"/>
<rect class="dshb" x="1278" y="338" width="80" height="10"/>
<rect class="pk" x="1366" y="78" width="6" height="426"/><rect class="mk" x="1366" y="150" width="6" height="6"/><rect class="mk" x="1366" y="492" width="6" height="8"/>
<rect class="pk" x="1264" y="110" width="6" height="290"/>
<rect class="nv" x="1270" y="355" width="6" height="27"/><rect class="nv" x="1372" y="411" width="6" height="55"/>
<rect class="cy" x="1372" y="160" width="5" height="60"/>
<rect class="dsh" x="1277" y="409" width="82" height="11"/>
<rect class="lv" x="1258" y="423" width="130" height="9"/><text class="tt" x="1323" y="429.5">Preparation</text>
<rect class="el" x="1258" y="432" width="130" height="8"/><text class="te" x="1323" y="438">ELQA</text>
<rect class="fl" x="1258" y="440" width="130" height="17"/><text class="tt" x="1323" y="450">Flushing</text>
<rect class="br" x="1288" y="469" width="7" height="58"/><rect class="br" x="1342" y="477" width="7" height="57"/>
<rect class="el" x="1258" y="525" width="130" height="9"/><text class="te" x="1323" y="532">ELQA</text>
<rect class="cd" x="1258" y="534" width="130" height="41"/><text class="tc" x="1323" y="543">Cool-down</text>
<line class="sv" x1="1277" y1="554" x2="1359" y2="596"/>
<rect class="el" x="1258" y="581" width="130" height="16"/><text class="te" x="1323" y="591">ELQA</text>
<rect class="pw" x="1258" y="597" width="130" height="40"/><text class="tbw" x="1323" y="620">Powering tests</text>
</g>

<g id="arc81">
<rect class="pw" x="1451" y="54" width="141" height="9"/><text class="tw" x="1521" y="62" font-size="10">Powering tests</text>
<rect class="lv" x="1451" y="65" width="141" height="7"/>
<rect class="el" x="1451" y="85" width="141" height="15"/><text class="te" x="1521" y="95">ELQA</text>
<rect class="wu" x="1451" y="100" width="141" height="32"/><rect class="lk" x="1451" y="116" width="141" height="2"/><text class="tu" x="1521" y="111" font-size="11">Warm-up</text>
<line class="sv" x1="1480" y1="68" x2="1563" y2="83"/>
<rect class="wb" x="1528" y="136" width="34" height="7"/><text class="tt" x="1545" y="141">Cabling</text>
<rect class="el" x="1451" y="144" width="141" height="10"/><text class="te" x="1521" y="151">ELQA</text>
<rect class="lk" x="1451" y="154" width="141" height="7"/><text class="tt" x="1521" y="159">Leak tests</text>
<rect class="dsh" x="1480" y="162" width="83" height="16"/>
<rect class="bx" x="1480" y="193" width="83" height="196"/><rect class="dk" x="1481" y="247" width="81" height="125"/>
<line x1="1480" y1="164" x2="1563" y2="217" stroke="#4a83c8" stroke-width="10"/>
<line class="dgt" x1="1480" y1="195" x2="1563" y2="221"/>
<path class="dg" d="M1480 248L1563 288M1480 272L1563 305M1480 285L1563 318M1480 300L1563 332M1480 315L1563 345M1480 330L1563 360M1480 350L1563 380"/>
<line class="or" x1="1480" y1="263" x2="1563" y2="357"/>
<line class="mg" x1="1480" y1="340" x2="1563" y2="371"/>
<rect class="pk" x="1457" y="67" width="6" height="602"/><rect class="mk" x="1457" y="116" width="6" height="6"/><rect class="mk" x="1457" y="252" width="6" height="6"/><rect class="mk" x="1457" y="324" width="6" height="12"/><rect class="mk" x="1457" y="358" width="6" height="10"/>
<rect class="pk" x="1570" y="260" width="6" height="255"/><rect class="mk" x="1570" y="307" width="6" height="6"/><rect class="mk" x="1570" y="500" width="6" height="10"/>
<rect class="nv" x="1575" y="198" width="6" height="55"/><rect class="nv" x="1464" y="413" width="6" height="47"/>
<rect class="cy" x="1474" y="238" width="5" height="95"/><rect class="cy" x="1587" y="262" width="4" height="48"/><rect class="cy" x="1564" y="268" width="5" height="72"/>
<rect class="bx" x="1480" y="408" width="83" height="85"/>
<line x1="1480" y1="414" x2="1563" y2="414" stroke="#2a4bcc" stroke-dasharray="2 1.5"/>
<line class="dgt" x1="1480" y1="420" x2="1563" y2="448"/>
<line class="mg" x1="1480" y1="432" x2="1563" y2="488"/>
<rect class="br" x="1493" y="447" width="8" height="43"/><rect class="br" x="1542" y="452" width="8" height="40"/>
<rect class="lv" x="1451" y="568" width="141" height="10"/><text class="tt" x="1521" y="574.5">Preparation</text>
<rect class="el" x="1451" y="578" width="141" height="10"/><text class="te" x="1521" y="585">ELQA</text>
<rect class="fl" x="1451" y="589" width="141" height="12"/><text class="tt" x="1521" y="596.5">Flushing</text>
<rect class="cd" x="1451" y="601" width="141" height="44"/><text class="tc" x="1521" y="612">Cool-down</text>
<line class="sv" x1="1480" y1="624" x2="1565" y2="662"/>
<rect class="el" x="1451" y="655" width="141" height="14"/><text class="te" x="1521" y="664">ELQA</text>
<rect class="pw" x="1451" y="670" width="141" height="42"/><text class="tbw" x="1521" y="694">Powering tests</text>
<rect class="gr" x="1562" y="690" width="6" height="9"/>
</g>

<g id="connectors">
<line class="gl" x1="160" y1="73" x2="178" y2="77"/>
<line class="gl" x1="329" y1="80" x2="345" y2="86"/>
<line class="gl" x1="508" y1="228" x2="638" y2="249"/>
<line class="gl" x1="1030" y1="61" x2="1068" y2="69"/>
<line class="gl" x1="1068" y1="303" x2="1145" y2="329"/>
<line class="gl" x1="1296" y1="355" x2="1390" y2="371"/>
<line class="gl" x1="1426" y1="70" x2="1448" y2="73"/>
<line class="gl" x1="645" y1="455" x2="660" y2="462"/>
<line class="gl" x1="327" y1="523" x2="343" y2="533"/>
<line class="gl" x1="640" y1="67" x2="660" y2="70"/>
<line class="gl" x1="1240" y1="440" x2="1252" y2="452"/>
<line class="gl" x1="1032" y1="424" x2="1046" y2="433"/>
<line class="gl" x1="930" y1="515" x2="935" y2="520"/>
</g>

<g id="shutdown-bars">
<rect class="db" x="123" y="389" width="1469" height="19"/>
<line x1="123" y1="790.5" x2="1592" y2="790.5" stroke="#e0303a" stroke-width="1.5"/>
<rect class="db" x="123" y="791" width="1469" height="21"/>
</g>

<g id="red-lines">
<line class="rl" x1="123" y1="131.5" x2="180" y2="131.5" stroke-width="1.5"/>
<line class="rl" x1="251" y1="240" x2="420" y2="240" stroke-width="2"/>
<line class="rl" x1="420" y1="317" x2="567" y2="317" stroke-width="5"/>
<line class="rl" x1="567" y1="262" x2="753" y2="262" stroke-width="3"/>
<line class="rl" x1="753" y1="88.5" x2="957" y2="88.5" stroke-width="5"/>
<line class="rl" x1="957" y1="379" x2="1143" y2="379" stroke-width="4"/>
<line class="rd" x1="1143" y1="266" x2="1317" y2="266" stroke-width="7"/>
<line class="rd" x1="1234" y1="266" x2="1234" y2="355" stroke-width="6"/>
<line class="rl" x1="1143" y1="386" x2="1317" y2="386" stroke-width="4"/>
<line class="rl" x1="1317" y1="122" x2="1522" y2="122" stroke-width="4"/>
<line class="rl" x1="1522" y1="131.5" x2="1592" y2="131.5" stroke-width="3"/>
<line class="rl" x1="251" y1="471" x2="418" y2="471" stroke-width="4"/>
<line class="rd" x1="753" y1="603" x2="957" y2="603" stroke-width="4"/>
<line class="rl" x1="251" y1="602" x2="567" y2="602" stroke-width="1.5"/>
<line class="rl" x1="567" y1="632" x2="753" y2="632" stroke-width="1.5"/>
<line class="rl" x1="753" y1="533" x2="957" y2="533" stroke-width="1.5"/>
<line class="rl" x1="957" y1="527" x2="1143" y2="527" stroke-width="1.5"/>
<line class="rl" x1="1143" y1="532" x2="1318" y2="532" stroke-width="1.5"/>
<line class="rl" x1="1143" y1="539" x2="1521" y2="539" stroke-width="1.5"/>
<line class="rd" x1="1143" y1="544" x2="1318" y2="544" stroke-width="1.5"/>
<line class="rl" x1="1505" y1="580" x2="1592" y2="580" stroke-width="1.5"/>
</g>

<g id="sector-test">
<rect x="1072" y="741" width="407" height="6" fill="#cdf0b3"/>
<text x="1277" y="747" font-size="8" fill="#e8202a" text-anchor="middle">Sector Test</text>
</g>

<g id="commissioning-labels">
<text x="857" y="829" font-size="7" fill="#3a427e" text-anchor="middle">Machine checkout</text>
<text x="857" y="872" font-size="7" fill="#8088aa" text-anchor="middle">Beam commissioning</text>
<text x="855" y="885" font-size="48" fill="#0b5aa6" text-anchor="middle">Beam Commissioning</text>
</g>

<rect x="30" y="899" width="1609" height="2" fill="#e6e6e6"/>
<rect x="30" y="901" width="1609" height="8" fill="#c4c4c4"/>

<g id="years">
<text class="yr" transform="translate(48,210) rotate(-90)">2013</text>
<text class="yr" transform="translate(48,611) rotate(-90)">2014</text>
<text class="yr" transform="translate(48,878) rotate(-90)">2015</text>
</g>
</svg>
